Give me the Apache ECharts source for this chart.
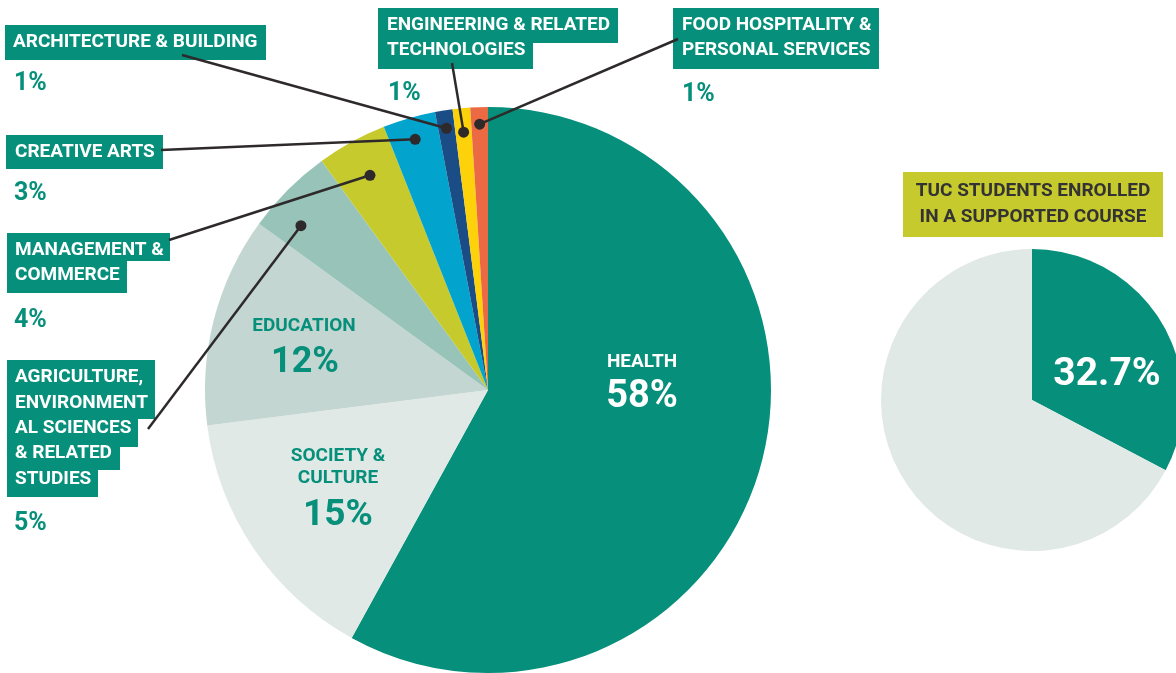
<!DOCTYPE html>
<html>
<head>
<meta charset="utf-8">
<script src="https://cdn.jsdelivr.net/npm/echarts@6/dist/echarts.min.js"></script>
<style>
  html, body { margin: 0; padding: 0; background: #fff; }
  #chart { width: 1176px; height: 673px; }
</style>
</head>
<body>
<div id="chart"></div>
<script>
// field of education shares (%), clockwise from 12 o'clock
const categories = [
  'HEALTH',
  'SOCIETY & CULTURE',
  'EDUCATION',
  'AGRICULTURE, ENVIRONMENTAL SCIENCES & RELATED STUDIES',
  'MANAGEMENT & COMMERCE',
  'CREATIVE ARTS',
  'ARCHITECTURE & BUILDING',
  'ENGINEERING & RELATED TECHNOLOGIES',
  'FOOD HOSPITALITY & PERSONAL SERVICES'
]
const shares = [58, 15, 12, 5, 4, 3, 1, 1, 1]
const sliceColors = ['#068f7a', '#e1e9e6', '#c3d6d1', '#98c3b8', '#c6ca2c', '#02a3cc', '#1a4c86', '#fdd20b', '#ec6a43']

// TUC students enrolled in a supported course
const enrolledNames = ['Supported course', 'Other']
const enrolledShares = [32.7, 67.3]
const enrolledColors = ['#068f7a', '#e1e9e6']

const TEAL = '#068f7a'
const INK = '#2e2a2b'
const cx = 488, cy = 390, R = 283

const chart = echarts.init(document.getElementById('chart'))

const total = shares.reduce((a, b) => a + b, 0)
const midAngle = i => {
  let before = 0
  for (let k = 0; k < i; k++) before += shares[k]
  return (before + shares[i] / 2) / total * 360
}
const pct = i => shares[i] + '%'

// callout boxes for the small slices
const callouts = [
  { idx: 6, x0: 5, tx: 13, pct: [14, 84], from: [182, 55], r: 265, shift: 0,
    rows: [{ t: 'ARCHITECTURE & BUILDING', y0: 25, y1: 60, x1: 266, ty: 42 }] },
  { idx: 5, x0: 6, tx: 15, pct: [14, 194], from: [161, 150], r: 261, shift: 0,
    rows: [{ t: 'CREATIVE ARTS', y0: 135, y1: 169, x1: 163, ty: 152 }] },
  { idx: 4, x0: 7, tx: 15, pct: [14, 321], from: [169, 240], r: 245, shift: 0,
    rows: [
      { t: 'MANAGEMENT &', y0: 233, y1: 261, x1: 170, ty: 250 },
      { t: 'COMMERCE', y0: 261, y1: 293, x1: 127, ty: 275 }
    ] },
  { idx: 3, x0: 7, tx: 15, pct: [14, 524], from: [148, 429], r: 249, shift: -3.7,
    rows: [
      { t: 'AGRICULTURE,', y0: 360, y1: 389, x1: 155, ty: 377 },
      { t: 'ENVIRONMENT', y0: 389, y1: 419, x1: 155, ty: 403 },
      { t: 'AL SCIENCES', y0: 419, y1: 447, x1: 138, ty: 428 },
      { t: '& RELATED', y0: 447, y1: 470, x1: 120, ty: 453 },
      { t: 'STUDIES', y0: 470, y1: 497, x1: 98, ty: 479 }
    ] },
  { idx: 7, x0: 378, tx: 387, pct: [388, 94], from: [452, 63], r: 259, shift: 0,
    rows: [
      { t: 'ENGINEERING & RELATED', y0: 8, y1: 43, x1: 618, ty: 25 },
      { t: 'TECHNOLOGIES', y0: 43, y1: 69, x1: 533, ty: 50 }
    ] },
  { idx: 8, x0: 673, tx: 682, pct: [682, 95], from: [678, 39], r: 266, shift: 0,
    rows: [
      { t: 'FOOD HOSPITALITY &', y0: 8, y1: 43, x1: 879, ty: 25 },
      { t: 'PERSONAL SERVICES', y0: 43, y1: 69, x1: 879, ty: 50 }
    ] }
]

const graphics = []
const boxFont = 'bold 19px Roboto'

callouts.forEach(c => {
  c.rows.forEach(row => {
    graphics.push({
      type: 'rect', z: 100,
      shape: { x: c.x0, y: row.y0, width: row.x1 - c.x0, height: row.y1 - row.y0 },
      style: { fill: TEAL }
    })
    graphics.push({
      type: 'text', z: 101, x: c.tx, y: row.ty,
      style: { text: row.t, fill: '#fff', font: boxFont, verticalAlign: 'middle' }
    })
  })
  graphics.push({
    type: 'text', z: 101, x: c.pct[0], y: c.pct[1],
    style: { text: pct(c.idx), fill: TEAL, font: 'bold 25px Roboto', verticalAlign: 'middle' }
  })
  const a = (midAngle(c.idx) + c.shift) * Math.PI / 180
  const dx = cx + c.r * Math.sin(a)
  const dy = cy - c.r * Math.cos(a)
  graphics.push({
    type: 'line', z: 102,
    shape: { x1: c.from[0], y1: c.from[1], x2: dx, y2: dy },
    style: { stroke: INK, lineWidth: 2.5 }
  })
  graphics.push({
    type: 'circle', z: 103,
    shape: { cx: dx, cy: dy, r: 5.5 },
    style: { fill: INK }
  })
})

// labels inside the three large slices
const inner = [
  { x: 642, y: 362, t: categories[0], size: 19, color: '#fff' },
  { x: 642, y: 397, t: pct(0), size: 38, color: '#fff' },
  { x: 304, y: 326, t: categories[2], size: 19, color: TEAL },
  { x: 305, y: 363, t: pct(2), size: 36, color: TEAL },
  { x: 338, y: 456, t: 'SOCIETY &', size: 19, color: TEAL },
  { x: 338, y: 478, t: 'CULTURE', size: 19, color: TEAL },
  { x: 338, y: 516, t: pct(1), size: 37, color: TEAL },
  { x: 1107, y: 375, t: enrolledShares[0] + '%', size: 39, color: '#fff' }
]
inner.forEach(l => {
  graphics.push({
    type: 'text', z: 101, x: l.x, y: l.y,
    style: { text: l.t, fill: l.color, font: 'bold ' + l.size + 'px Roboto', align: 'center', verticalAlign: 'middle' }
  })
})

// title box of the small pie
graphics.push({
  type: 'rect', z: 100,
  shape: { x: 903, y: 172, width: 260, height: 65 },
  style: { fill: '#c6ca2c' }
})
;['TUC STUDENTS ENROLLED', 'IN A SUPPORTED COURSE'].forEach((t, i) => {
  graphics.push({
    type: 'text', z: 101, x: 1033, y: 191 + i * 26,
    style: { text: t, fill: '#333', font: 'bold 19px Roboto', align: 'center', verticalAlign: 'middle' }
  })
})

chart.setOption({
  animation: false,
  series: [
    {
      type: 'pie',
      center: [cx, cy],
      radius: R,
      startAngle: 90,
      clockwise: true,
      silent: true,
      label: { show: false },
      labelLine: { show: false },
      itemStyle: { borderWidth: 0 },
      data: categories.map((name, i) => ({ name, value: shares[i], itemStyle: { color: sliceColors[i] } }))
    },
    {
      type: 'pie',
      center: [1032, 400],
      radius: 151,
      startAngle: 90,
      clockwise: true,
      silent: true,
      label: { show: false },
      labelLine: { show: false },
      itemStyle: { borderWidth: 0 },
      data: enrolledNames.map((name, i) => ({ name, value: enrolledShares[i], itemStyle: { color: enrolledColors[i] } }))
    }
  ],
  graphic: graphics
})
</script>
</body>
</html>
